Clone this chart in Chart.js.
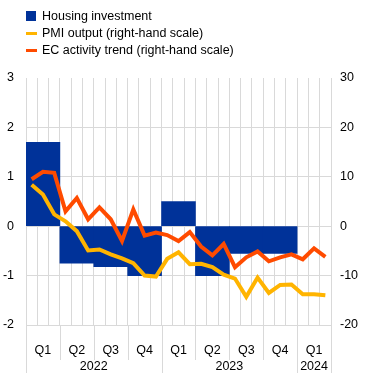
<!DOCTYPE html>
<html>
<head>
<meta charset="utf-8">
<script src="https://cdn.jsdelivr.net/npm/chart.js@4.4.1/dist/chart.umd.min.js"></script>
<style>
  body { margin: 0; background: #fff; }
  #wrap { position: relative; width: 370px; height: 376px; font-family: "Liberation Sans", Arial, sans-serif; }
  #legend { position: absolute; left: 26px; top: 0; font-size: 12.5px; color: #000; }
  .row { position: absolute; left: 0; height: 16px; white-space: nowrap; }
  .row span.key { position: absolute; left: 0; }
  .row span.txt { position: absolute; left: 16px; top: 0; line-height: 16px; }
</style>
</head>
<body>
<div id="wrap">
  <canvas id="chart" width="370" height="376"></canvas>
  <div id="legend"></div>
</div>
<script>
// months of the line series, Jan 2022 - Mar 2024
const months = ["Jan 22", "Feb 22", "Mar 22", "Apr 22", "May 22", "Jun 22", "Jul 22", "Aug 22", "Sep 22",
  "Oct 22", "Nov 22", "Dec 22", "Jan 23", "Feb 23", "Mar 23", "Apr 23", "May 23", "Jun 23",
  "Jul 23", "Aug 23", "Sep 23", "Oct 23", "Nov 23", "Dec 23", "Jan 24", "Feb 24", "Mar 24"];
const quarters = ["Q1", "Q2", "Q3", "Q4", "Q1", "Q2", "Q3", "Q4", "Q1"];
const years = ["2022", "2023", "2024"];
const quartersPerYear = [4, 4, 1];

// housing investment, quarterly (left scale)
const housing = [1.7, -0.75, -0.82, -1.0, 0.5, -1.0, -0.55, -0.55, null];
// PMI output, monthly (right scale)
const pmi = [8.4, 6.4, 2.4, 1.0, -1.0, -4.9, -4.7, -5.7, -6.5, -7.5, -10.0, -10.2, -6.6, -5.3,
  -7.7, -7.6, -8.3, -9.8, -10.6, -14.3, -10.4, -13.5, -11.9, -11.8, -13.8, -13.8, -14.0];
// EC activity trend, monthly (right scale)
const ec = [9.5, 11.0, 10.8, 3.0, 5.7, 1.4, 3.8, 1.4, -3.0, 3.4, -1.9, -1.3, -1.8, -3.0,
  -1.2, -4.1, -5.9, -3.6, -8.3, -6.3, -5.1, -7.1, -6.3, -5.7, -6.7, -4.5, -6.2];

const leftTicks = [-2, -1, 0, 1, 2, 3];
const rightTicks = [-20, -10, 0, 10, 20, 30];

const BLUE = "#003299";
const YELLOW = "#ffb400";
const ORANGE = "#ff4b00";
const GRID = "#d9d9d9";
const FONT = { family: "'Liberation Sans', Arial, sans-serif", size: 12.5 };

// legend (html)
const legendItems = [
  { label: "Housing investment", color: BLUE, box: true },
  { label: "PMI output (right-hand scale)", color: YELLOW },
  { label: "EC activity trend (right-hand scale)", color: ORANGE }
];
const legend = document.getElementById("legend");
legendItems.forEach((item, i) => {
  const row = document.createElement("div");
  row.className = "row";
  row.style.top = (8 + i * 17) + "px";
  const key = document.createElement("span");
  key.className = "key";
  key.style.background = item.color;
  key.style.width = item.box ? "10px" : "11px";
  key.style.height = item.box ? "10px" : "3px";
  key.style.top = item.box ? "3px" : "6.5px";
  const txt = document.createElement("span");
  txt.className = "txt";
  txt.textContent = item.label;
  row.appendChild(key);
  row.appendChild(txt);
  legend.appendChild(row);
});

// separators and year labels under the quarter axis
const lowerAxis = {
  id: "lowerAxis",
  afterDraw(chart) {
    const ctx = chart.ctx;
    const area = chart.chartArea;
    const qw = (area.right - area.left) / quarters.length;
    const yearStarts = [0];
    quartersPerYear.forEach(n => yearStarts.push(yearStarts[yearStarts.length - 1] + n));
    ctx.save();
    ctx.strokeStyle = GRID;
    ctx.lineWidth = 1;
    for (let k = 0; k <= quarters.length; k++) {
      const x = Math.round(area.left + k * qw) + 0.5;
      const len = yearStarts.includes(k) ? 48 : 35;
      ctx.beginPath();
      ctx.moveTo(x, area.bottom);
      ctx.lineTo(x, area.bottom + len);
      ctx.stroke();
    }
    ctx.fillStyle = "#000";
    ctx.font = FONT.size + "px " + FONT.family;
    ctx.textAlign = "center";
    ctx.textBaseline = "middle";
    years.forEach((y, i) => {
      const x0 = area.left + yearStarts[i] * qw;
      const x1 = area.left + yearStarts[i + 1] * qw;
      ctx.fillText(y, (x0 + x1) / 2, area.bottom + 42);
    });
    ctx.restore();
  }
};

new Chart(document.getElementById("chart"), {
  type: "bar",
  data: {
    labels: months,
    datasets: [
      {
        type: "line",
        label: "EC activity trend (right-hand scale)",
        data: ec,
        xAxisID: "m",
        yAxisID: "y2",
        borderColor: ORANGE,
        borderWidth: 4,
        pointRadius: 0,
        tension: 0,
        order: 1
      },
      {
        type: "line",
        label: "PMI output (right-hand scale)",
        data: pmi,
        xAxisID: "m",
        yAxisID: "y2",
        borderColor: YELLOW,
        borderWidth: 4,
        pointRadius: 0,
        tension: 0,
        order: 2
      },
      {
        type: "bar",
        label: "Housing investment",
        data: housing,
        xAxisID: "q",
        yAxisID: "y",
        backgroundColor: BLUE,
        barPercentage: 1,
        categoryPercentage: 1,
        grouped: false,
        order: 3
      }
    ]
  },
  options: {
    responsive: false,
    animation: false,
    layout: { padding: { top: 78, left: 0, right: 0, bottom: 0 } },
    plugins: { legend: { display: false }, tooltip: { enabled: false } },
    scales: {
      m: {
        type: "category",
        labels: months,
        position: "bottom",
        offset: true,
        grid: { color: GRID, offset: true, drawTicks: false },
        border: { display: false },
        ticks: { display: false },
        afterFit: axis => { axis.height = 0; }
      },
      q: {
        type: "category",
        labels: quarters,
        position: "bottom",
        offset: true,
        grid: { display: false, drawTicks: false },
        border: { display: false },
        ticks: { color: "#000", font: FONT, padding: 18, maxRotation: 0, autoSkip: false },
        afterFit: axis => { axis.height = 51; }
      },
      y: {
        position: "left",
        min: -2,
        max: 3,
        afterBuildTicks: axis => { axis.ticks = leftTicks.map(v => ({ value: v })); },
        grid: {
          color: c => (c.tick && c.tick.value === 3 ? "rgba(0,0,0,0)" : GRID),
          drawTicks: false
        },
        border: { display: false },
        ticks: { color: "#000", font: FONT, padding: 12 },
        afterFit: axis => { axis.width = 26; }
      },
      y2: {
        position: "right",
        min: -20,
        max: 30,
        afterBuildTicks: axis => { axis.ticks = rightTicks.map(v => ({ value: v })); },
        grid: { drawOnChartArea: false, drawTicks: false },
        border: { display: false },
        ticks: { color: "#000", font: FONT, padding: 9 },
        afterFit: axis => { axis.width = 39; }
      }
    }
  },
  plugins: [lowerAxis]
});
</script>
</body>
</html>
